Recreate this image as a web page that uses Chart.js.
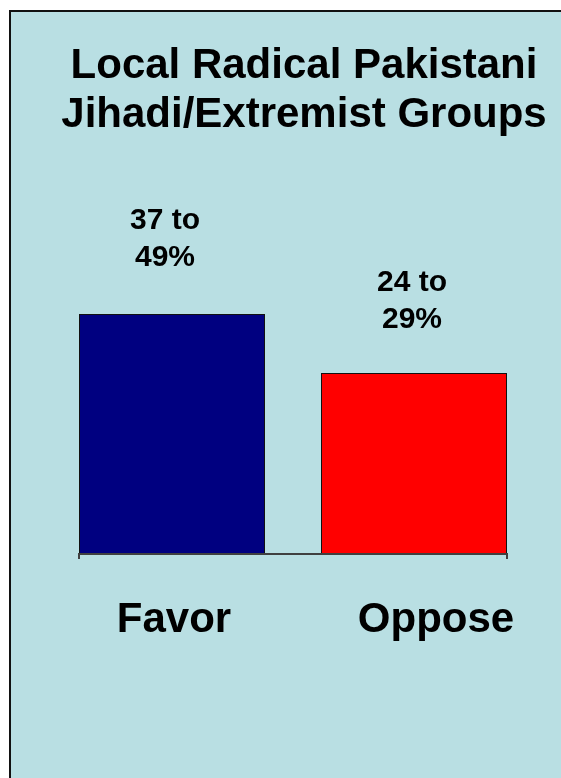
<!DOCTYPE html>
<html>
<head>
<meta charset="utf-8">
<script src="https://cdn.jsdelivr.net/npm/chart.js@4/dist/chart.umd.min.js"></script>
<style>
  html, body { margin: 0; padding: 0; background: #ffffff; }
  #wrap { width: 561px; height: 778px; position: relative; }
  canvas { display: block; }
</style>
</head>
<body>
<div id="wrap"><canvas id="c" width="561" height="778"></canvas></div>
<script>
// ---- data ----
const categories = ['Favor', 'Oppose'];
const values = [43, 32.4];
const valueLabels = [['37 to', '49%'], ['24 to', '29%']];
const titleLines = ['Local Radical Pakistani', 'Jihadi/Extremist Groups'];
const barColors = ['#000080', '#FF0000'];

const FONT = '"Liberation Sans", Arial, Helvetica, sans-serif';

const decorPlugin = {
  id: 'decor',
  beforeDraw(chart) {
    const ctx = chart.ctx;
    ctx.save();
    ctx.fillStyle = '#ffffff';
    ctx.fillRect(0, 0, chart.width, chart.height);
    ctx.fillStyle = '#B9DFE3';
    ctx.fillRect(10, 11, chart.width - 10, chart.height - 11);
    ctx.strokeStyle = '#111111';
    ctx.lineWidth = 2;
    ctx.beginPath();
    ctx.moveTo(10, chart.height);
    ctx.lineTo(10, 11);
    ctx.lineTo(chart.width, 11);
    ctx.stroke();
    ctx.restore();
  },
  afterDraw(chart) {
    const ctx = chart.ctx;
    const xs = chart.scales.x;
    const meta = chart.getDatasetMeta(0);
    const bars = meta.data;
    ctx.save();
    // category axis line spanning from the first bar edge to the last bar edge
    const first = bars[0].getProps(['x', 'width'], true);
    const last = bars[bars.length - 1].getProps(['x', 'width'], true);
    const x0 = first.x - first.width / 2;
    const x1 = last.x + last.width / 2;
    const yb = chart.chartArea.bottom;
    ctx.strokeStyle = '#404040';
    ctx.lineWidth = 2;
    ctx.beginPath();
    ctx.moveTo(x0, yb + 5);
    ctx.lineTo(x0, yb);
    ctx.lineTo(x1, yb);
    ctx.lineTo(x1, yb + 5);
    ctx.stroke();

    ctx.fillStyle = '#000000';
    ctx.textAlign = 'center';
    ctx.textBaseline = 'alphabetic';
    // title
    ctx.font = 'bold 42px ' + FONT;
    titleLines.forEach((t, i) => ctx.fillText(t, 304, 78 + i * 49));
    // value labels above bars
    const lblDx = [-7, -2];
    const lblDy = [-48, -45];
    ctx.font = 'bold 30px ' + FONT;
    bars.forEach((bar, i) => {
      const lines = valueLabels[i];
      const n = lines.length;
      lines.forEach((l, j) => {
        ctx.fillText(l, bar.x + lblDx[i], bar.y + lblDy[i] - (n - 1 - j) * 37);
      });
    });
    // category labels
    const catDx = [2, 22];
    ctx.font = 'bold 42px ' + FONT;
    categories.forEach((c, i) => {
      ctx.fillText(c, xs.getPixelForValue(i) + catDx[i], yb + 78);
    });
    ctx.restore();
  }
};

new Chart(document.getElementById('c'), {
  type: 'bar',
  data: {
    labels: categories,
    datasets: [{
      data: values,
      backgroundColor: barColors,
      borderColor: '#111111',
      borderWidth: 1,
      categoryPercentage: 1.0,
      barPercentage: 186 / 242
    }]
  },
  options: {
    responsive: false,
    animation: false,
    layout: { padding: { left: 51, right: 26, top: 219, bottom: 224 } },
    plugins: { legend: { display: false }, title: { display: false }, tooltip: { enabled: false } },
    scales: {
      x: {
        display: false,
        offset: true
      },
      y: {
        display: false,
        min: 0,
        max: 60
      }
    }
  },
  plugins: [decorPlugin]
});
</script>
</body>
</html>
